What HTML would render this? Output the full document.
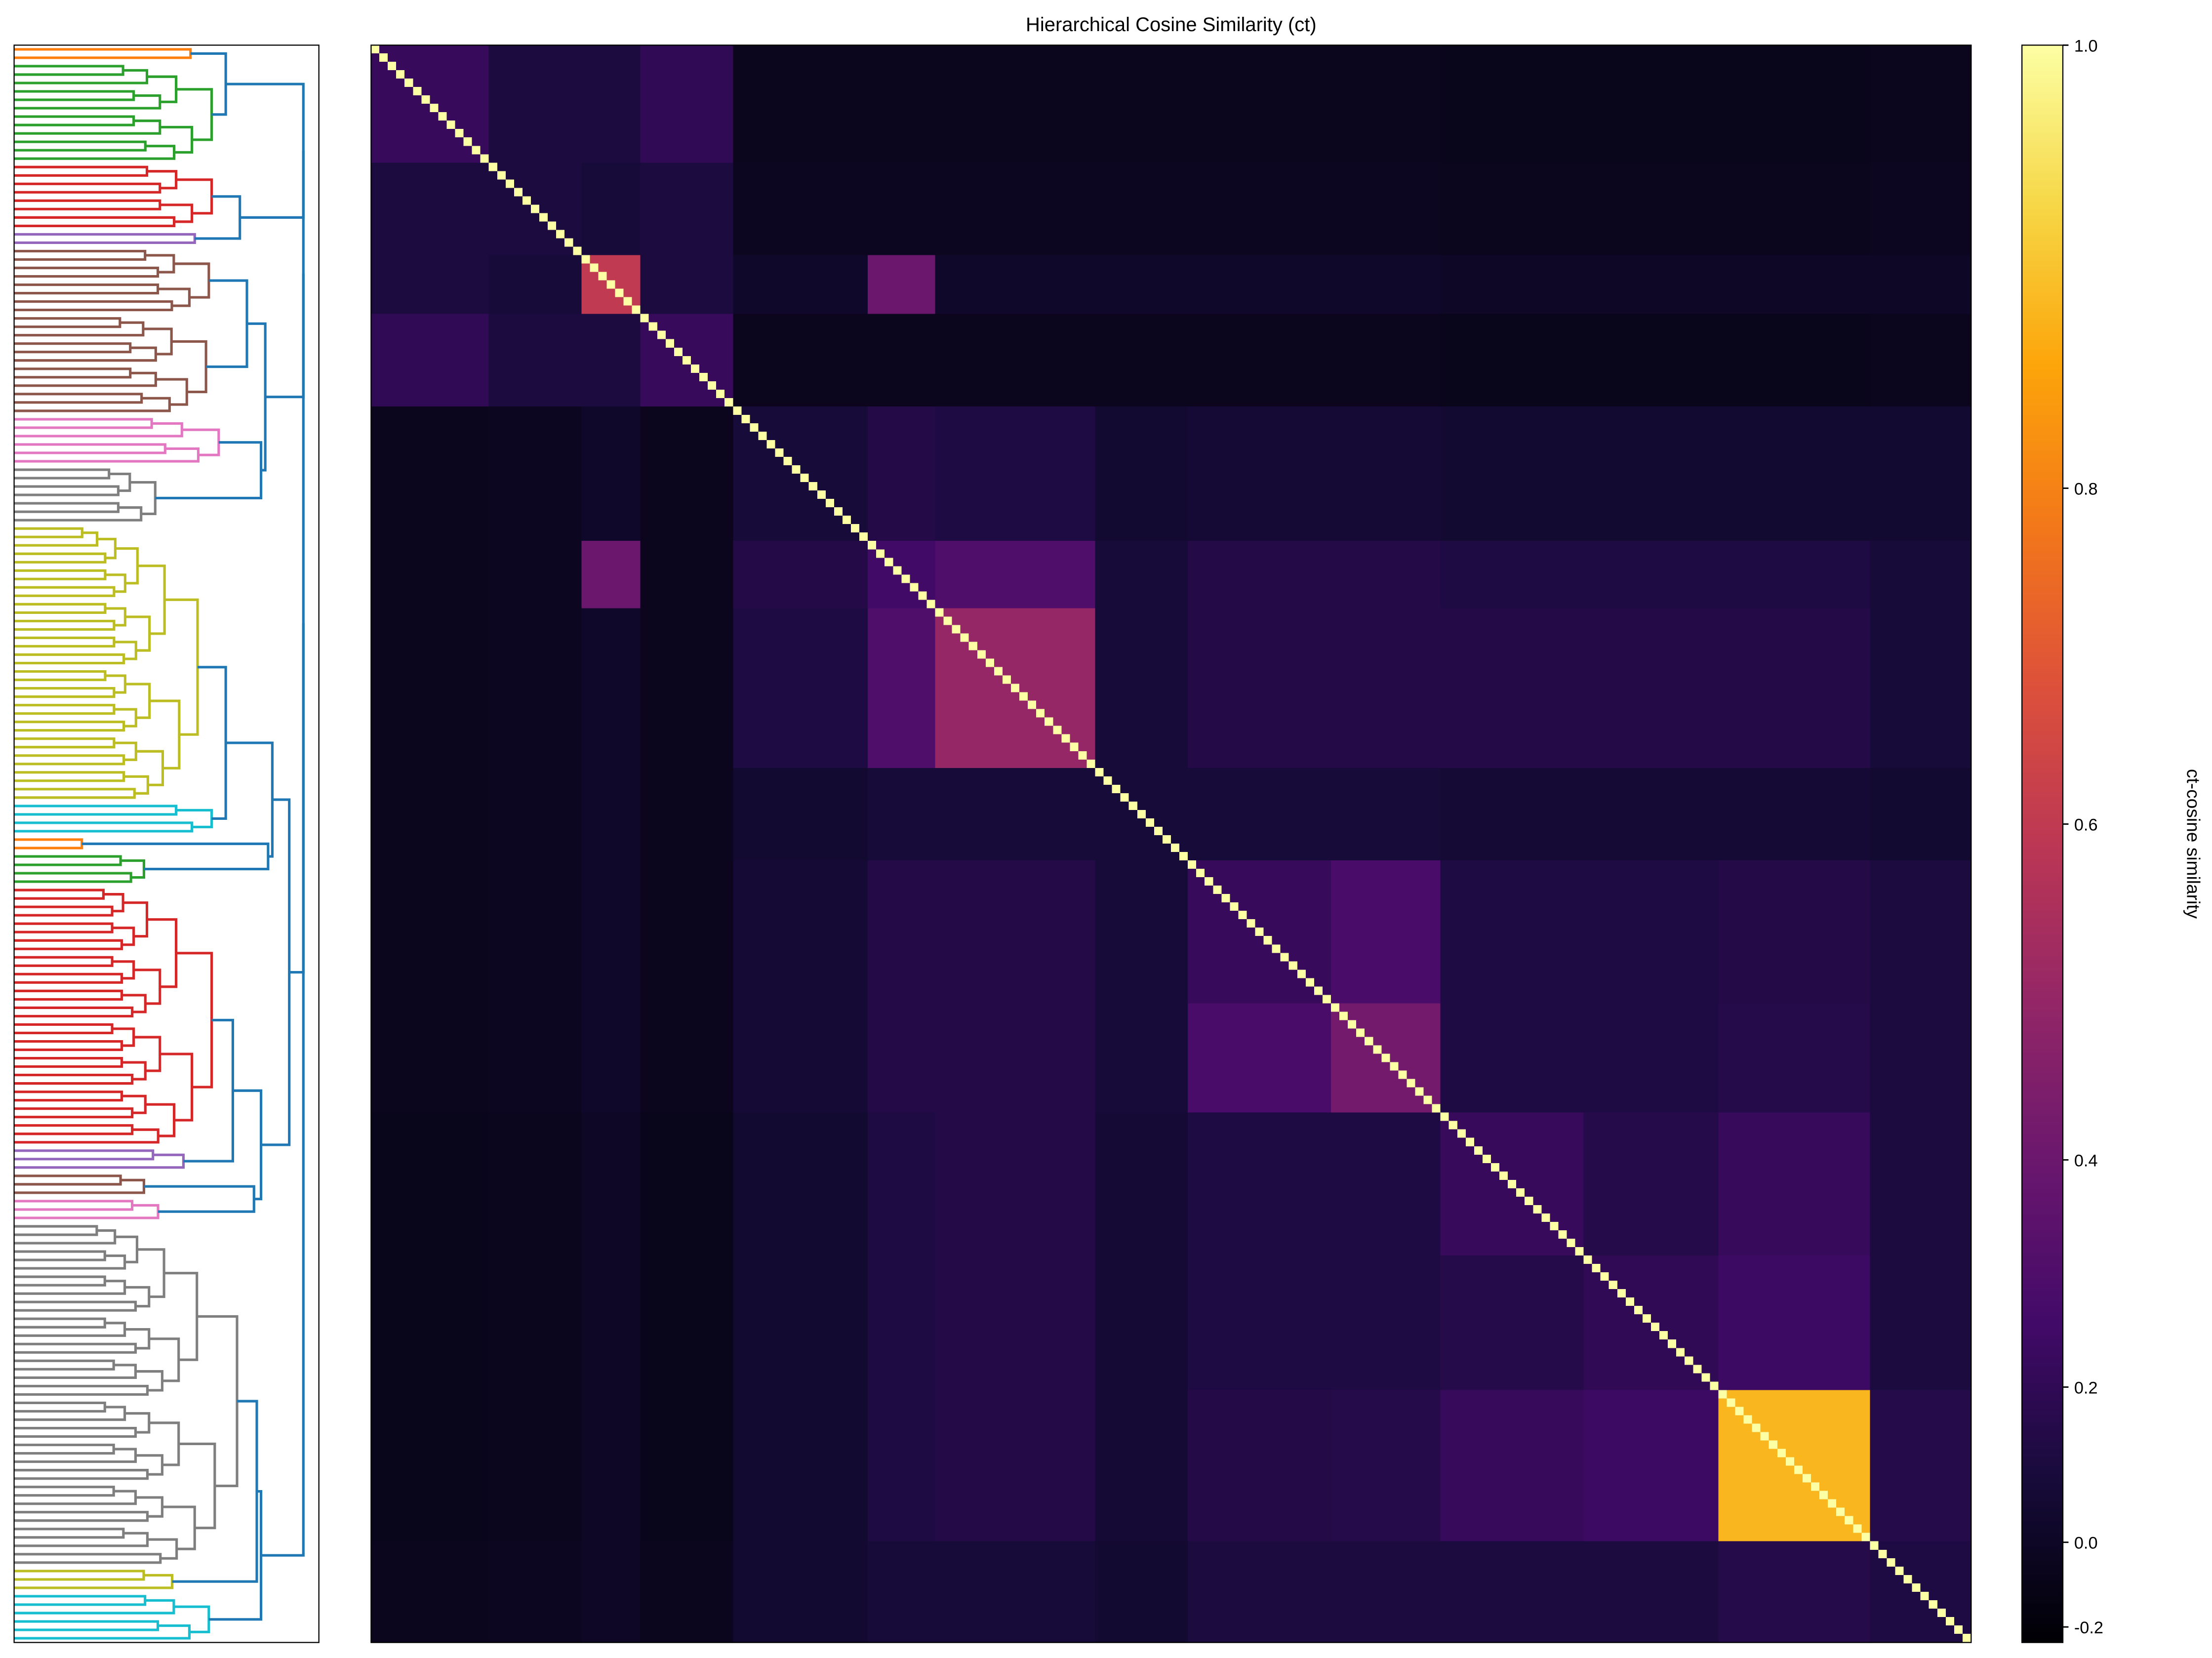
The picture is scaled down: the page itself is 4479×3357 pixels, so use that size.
<!DOCTYPE html>
<html><head><meta charset="utf-8">
<style>
html,body{margin:0;padding:0;background:#fff;}
#wrap{position:relative;width:4479px;height:3357px;overflow:hidden;font-family:"Liberation Sans",sans-serif;}
svg{position:absolute;left:0;top:0;}
#heat{position:absolute;left:751px;top:91px;width:3240px;height:3234px;image-rendering:pixelated;}
</style></head>
<body>
<div id="wrap">
<canvas id="heat" width="190" height="190"></canvas>
<svg id="svg" width="4479" height="3357" viewBox="0 0 1567.7 1175" preserveAspectRatio="none">
  <defs>
    <linearGradient id="inferno" x1="0" y1="1" x2="0" y2="0">
      <stop offset="0" stop-color="#000004"/><stop offset="0.1" stop-color="#160b39"/>
      <stop offset="0.2" stop-color="#420a68"/><stop offset="0.3" stop-color="#6a176e"/>
      <stop offset="0.4" stop-color="#932667"/><stop offset="0.5" stop-color="#bc3754"/>
      <stop offset="0.6" stop-color="#dd513a"/><stop offset="0.7" stop-color="#f37819"/>
      <stop offset="0.8" stop-color="#fca50a"/><stop offset="0.9" stop-color="#f6d746"/>
      <stop offset="1" stop-color="#fcffa4"/>
    </linearGradient>
  </defs>
  <text x="830" y="22" font-size="14" text-anchor="middle" fill="#000">Hierarchical Cosine Similarity (ct)</text>
  <rect x="263" y="32" width="1134" height="1132" fill="none" stroke="#000" stroke-width="0.8"/>
  <g id="dendro"></g>
  <rect x="10" y="32" width="216" height="1132" fill="none" stroke="#000" stroke-width="0.8"/>
  <rect x="1433" y="32" width="29" height="1132" fill="url(#inferno)" stroke="#000" stroke-width="0.8"/>
  <g id="cbticks"></g>
  <text x="1550" y="598" font-size="13" text-anchor="middle" transform="rotate(90 1550 598)">ct-cosine similarity</text>
</svg>
</div>
<script>
// ---- data ----
const N = 190;
const segBounds = [0,14,25,32,43,59,67,86,97,114,127,144,160,178,190];
const blockVals = [
 [0.22,0.10,0.10,0.20,-0.05,-0.05,-0.05,-0.05,-0.05,-0.05,-0.08,-0.08,-0.08,-0.05],
 [0.10,0.10,0.08,0.10,-0.03,-0.03,-0.03,-0.03,-0.03,-0.03,-0.05,-0.05,-0.05,-0.03],
 [0.10,0.08,0.60,0.10,0.02,0.40,0.02,0.02,0.02,0.02,0.00,0.00,0.00,0.00],
 [0.20,0.10,0.10,0.22,-0.05,-0.05,-0.05,-0.05,-0.05,-0.05,-0.08,-0.08,-0.08,-0.05],
 [-0.05,-0.03,0.02,-0.05,0.08,0.14,0.12,0.05,0.06,0.06,0.05,0.05,0.05,0.05],
 [-0.05,-0.03,0.40,-0.05,0.14,0.25,0.30,0.08,0.14,0.14,0.12,0.12,0.12,0.08],
 [-0.05,-0.03,0.02,-0.05,0.12,0.30,0.50,0.08,0.14,0.14,0.14,0.14,0.14,0.08],
 [-0.05,-0.03,0.02,-0.05,0.05,0.08,0.08,0.08,0.08,0.08,0.06,0.06,0.06,0.05],
 [-0.05,-0.03,0.02,-0.05,0.06,0.14,0.14,0.08,0.22,0.28,0.12,0.12,0.14,0.10],
 [-0.05,-0.03,0.02,-0.05,0.06,0.14,0.14,0.08,0.28,0.42,0.12,0.12,0.15,0.10],
 [-0.08,-0.05,0.00,-0.08,0.05,0.12,0.14,0.06,0.12,0.12,0.22,0.15,0.22,0.10],
 [-0.08,-0.05,0.00,-0.08,0.05,0.12,0.14,0.06,0.12,0.12,0.15,0.20,0.24,0.10],
 [-0.08,-0.05,0.00,-0.08,0.05,0.12,0.14,0.06,0.14,0.15,0.22,0.24,0.88,0.15],
 [-0.05,-0.03,0.00,-0.05,0.05,0.08,0.08,0.05,0.10,0.10,0.10,0.10,0.15,0.12]
];
const cbValues = [-0.22,-0.2,0,0.2,0.4,0.6,0.8,1.0];
const cbPos    = [1164,1153,1093,983,822,584,346,32];
const cbLabels = ["-0.2","0.0","0.2","0.4","0.6","0.8","1.0"];
const cbLabelVals = [-0.2,0,0.2,0.4,0.6,0.8,1.0];
const dClusters = [
 [0,1,"#ff7f0e",125],[2,13,"#2ca02c",140],[14,21,"#d62728",140],[22,23,"#9467bd",128],
 [24,31,"#8c564b",138],[32,43,"#8c564b",136],[44,49,"#e377c2",145],[50,56,"#7f7f7f",100],
 [57,89,"#bcbd22",130],[90,93,"#17becf",140],[94,95,"#ff7f0e",48],[96,99,"#2ca02c",92],
 [100,130,"#d62728",140],[131,133,"#9467bd",120],[134,136,"#8c564b",92],[137,139,"#e377c2",102],
 [140,180,"#7f7f7f",158],[181,183,"#bcbd22",112],[184,189,"#17becf",138]
];
const blueHeights = [150,160,165,175,150,180,155,170,172,205,165,160,175,170,185,195,200,210];

// ---- helpers ----
const stops=[[0,0,0,4],[.1,22,11,57],[.2,66,10,104],[.3,106,23,110],[.4,147,38,103],[.5,188,55,84],[.6,221,81,58],[.7,243,120,25],[.8,252,165,10],[.9,246,215,70],[1,252,255,164]];
function inferno(t){t=Math.max(0,Math.min(1,t));for(let i=1;i<stops.length;i++){if(t<=stops[i][0]){const a=stops[i-1],b=stops[i],f=(t-a[0])/(b[0]-a[0]);return [a[1]+f*(b[1]-a[1]),a[2]+f*(b[2]-a[2]),a[3]+f*(b[3]-a[3])];}}return [252,255,164];}
function valToY(v){v=Math.max(cbValues[0],Math.min(1,v));for(let i=1;i<cbValues.length;i++){if(v<=cbValues[i]){const f=(v-cbValues[i-1])/(cbValues[i]-cbValues[i-1]);return cbPos[i-1]+f*(cbPos[i]-cbPos[i-1]);}}return 32;}
function valToT(v){return (1164-valToY(v))/1132;}
function seg(i){for(let s=0;s<segBounds.length-1;s++)if(i<segBounds[s+1])return s;return segBounds.length-2;}

// ---- heatmap ----
const cv=document.getElementById('heat'),ctx=cv.getContext('2d');
const img=ctx.createImageData(N,N);
for(let r=0;r<N;r++)for(let c=0;c<N;c++){
  const v=(r===c)?1.0:blockVals[seg(r)][seg(c)];
  const col=inferno(valToT(v));const k=(r*N+c)*4;
  img.data[k]=col[0];img.data[k+1]=col[1];img.data[k+2]=col[2];img.data[k+3]=255;
}
ctx.putImageData(img,0,0);

// ---- colorbar ticks ----
const NS='http://www.w3.org/2000/svg';
const cbt=document.getElementById('cbticks');
cbLabelVals.forEach((v,i)=>{
  const y=valToY(v);
  const l=document.createElementNS(NS,'line');
  l.setAttribute('x1',1462);l.setAttribute('x2',1466);l.setAttribute('y1',y);l.setAttribute('y2',y);l.setAttribute('stroke','#000');
  
  
  cbt.appendChild(l);
  const t=document.createElementNS(NS,'text');
  t.setAttribute('x',1470);t.setAttribute('y',y+4.5);t.setAttribute('font-size','12');
  t.textContent=cbLabels[i];
  
  
  cbt.appendChild(t);
});

// ---- dendrogram ----
const dg=document.getElementById('dendro');
const leafY=i=>32+(i+0.5)*1132/N;
const X=h=>10+h;
function line(pts,color){
  const p=document.createElementNS(NS,'polyline');
  p.setAttribute('points',pts.map(q=>q.join(',')).join(' '));
  p.setAttribute('fill','none');p.setAttribute('stroke',color);p.setAttribute('stroke-width','1.8');
  
  
  dg.appendChild(p);
}
function build(lo,hi,h,color){
  if(lo===hi)return {y:leafY(lo),x:X(0)};
  const mid=Math.floor((lo+hi)/2);
  const a=build(lo,mid,h*0.82,color),b=build(mid+1,hi,h*0.9,color);
  line([[a.x,a.y],[X(h),a.y],[X(h),b.y],[b.x,b.y]],color);
  return {y:(a.y+b.y)/2,x:X(h)};
}
let nodes=dClusters.map(c=>build(c[0],c[1],c[3],c[2]));
let bi=0;
while(nodes.length>1){
  const nn=[];
  for(let i=0;i<nodes.length;i+=2){
    if(i+1<nodes.length){
      const a=nodes[i],b=nodes[i+1];
      let h=Math.max(blueHeights[bi%blueHeights.length],Math.max(a.x,b.x)-10+3);bi++;
      h=Math.min(h,205);
      line([[a.x,a.y],[X(h),a.y],[X(h),b.y],[b.x,b.y]],"#1f77b4");
      nn.push({y:(a.y+b.y)/2,x:X(h)});
    } else nn.push(nodes[i]);
  }
  nodes=nn;
}
</script>
</body></html>
